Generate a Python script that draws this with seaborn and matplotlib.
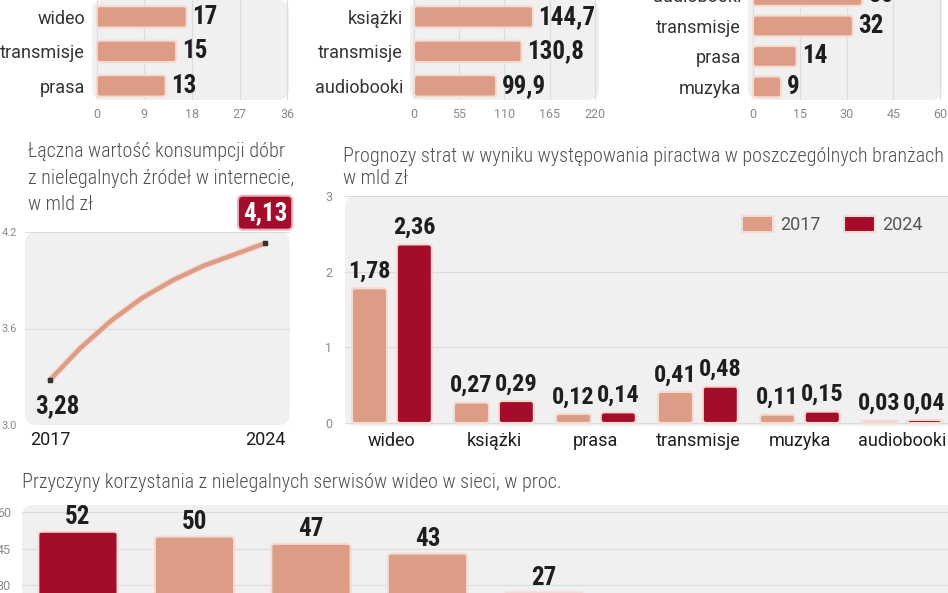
import pandas as pd
import seaborn as sns
import matplotlib.pyplot as plt
import matplotlib.patheffects as pe
from matplotlib.patches import FancyBboxPatch

# gorny rzad - poziome slupki (obciete od gory)
kat_a = ['wideo', 'transmisje', 'prasa']
wart_a = [17, 15, 13]
kat_b = ['książki', 'transmisje', 'audiobooki']
wart_b = [144.7, 130.8, 99.9]
kat_c = ['audiobooki', 'transmisje', 'prasa', 'muzyka']
wart_c = [35, 32, 14, 9]

# laczna wartosc konsumpcji
lata = [2017, 2018, 2019, 2020, 2021, 2022, 2023, 2024]
konsumpcja = [3.28, 3.48, 3.65, 3.79, 3.90, 3.99, 4.06, 4.13]

# prognozy strat
branze = ['wideo', 'książki', 'prasa', 'transmisje', 'muzyka', 'audiobooki']
straty_2017 = [1.78, 0.27, 0.12, 0.41, 0.11, 0.03]
straty_2024 = [2.36, 0.29, 0.14, 0.48, 0.15, 0.04]

# przyczyny (podpisy osi ucięte w kadrze)
przyczyny = ['p1', 'p2', 'p3', 'p4', 'p5']
przyczyny_proc = [52, 50, 47, 43, 27]

SALMON = '#dc9c85'
DARK = '#a30d2b'
EDGE = '#f5dcd2'
PANEL = '#f0f0f0'
GRID = '#dcdcdc'
TXT = '#1e1e1e'
TICK = '#8a8a8a'
W, H = 948, 593

sns.set_theme(style='white')
plt.rcParams['font.family'] = ['Roboto', 'DejaVu Sans']
NARROW = ['Roboto Condensed', 'Noto Sans Condensed', 'Open Sans Condensed',
          'DejaVu Sans Condensed', 'Liberation Sans Narrow', 'DejaVu Sans']
VAL = dict(fontsize=18, fontweight='bold', family=NARROW, fontstretch='condensed', color=TXT)
TIT = dict(fontsize=14.5, fontweight='light', color='#505050', family=NARROW,
           fontstretch='condensed')

fig = plt.figure(figsize=(W / 100, H / 100), dpi=100)


def pl(v, d):
    return f'{v:.{d}f}'.replace('.', ',')


def add_ax(x0, y0, x1, y1):
    # pozycja w pikselach (od lewego gornego rogu)
    ax = fig.add_axes([x0 / W, 1 - y1 / H, (x1 - x0) / W, (y1 - y0) / H])
    ax.patch.set_visible(False)
    w, h = x1 - x0, y1 - y0
    ax.add_patch(FancyBboxPatch((0, 0), 1, 1, boxstyle=f'round,pad=0,rounding_size={12 / w}',
                                mutation_aspect=w / h, transform=ax.transAxes,
                                fc=PANEL, ec='none', zorder=-1, clip_on=False))
    sns.despine(ax=ax, left=True, bottom=True)
    ax.tick_params(length=0)
    ax.set_axisbelow(True)
    return ax


def round_bars(ax, rho=3):
    # zaokraglone rogi slupkow
    bb = ax.get_window_extent()
    x0, x1 = ax.get_xlim()
    y0, y1 = ax.get_ylim()
    sx = bb.width / abs(x1 - x0)
    sy = bb.height / abs(y1 - y0)
    for cont in ax.containers:
        for r in cont:
            r.set_visible(False)
            ax.add_patch(FancyBboxPatch((r.get_x(), r.get_y()), r.get_width(), r.get_height(),
                                        boxstyle=f'round,pad=0,rounding_size={rho / sx}',
                                        mutation_aspect=sx / sy, fc=r.get_facecolor(),
                                        ec=EDGE, lw=1.5, zorder=2))


def hbars(ax, kat, wart, xlim, ticks, ylim, bw, d):
    sns.barplot(x=wart, y=kat, orient='h', color=SALMON, saturation=1, width=bw, ax=ax)
    ax.set_xlim(xlim)
    ax.set_ylim(ylim)
    ax.set_xticks(ticks)
    ax.set_xticklabels([str(t) for t in ticks], fontsize=9, color=TICK)
    ax.tick_params(axis='y', labelsize=13, labelcolor='#333333', pad=5)
    ax.tick_params(axis='x', pad=6)
    ax.grid(axis='x', color=GRID, lw=0.8)
    ax.set_xlabel('')
    ax.set_ylabel('')
    ax.bar_label(ax.containers[0], labels=[pl(v, d) for v in wart], padding=4,
                 annotation_clip=False, **VAL)
    round_bars(ax)


ax1 = add_ax(92, 0, 289, 100)
hbars(ax1, kat_a, wart_a, (-0.9, 36.3), [0, 9, 18, 27, 36], (2.41, -0.49), 0.62, 0)

ax2 = add_ax(410, 0, 599, 100)
hbars(ax2, kat_b, wart_b, (-4.9, 225), [0, 55, 110, 165, 220], (2.41, -0.49), 0.62, 1)

ax3 = add_ax(748, -10, 942, 100)
hbars(ax3, kat_c, wart_c, (-1.6, 60.6), [0, 15, 30, 45, 60], (3.43, -0.18), 0.68, 0)

# wykres liniowy
tytul_linie = ['Łączna wartość konsumpcji dóbr', 'z nielegalnych źródeł w internecie,', 'w mld zł']
for i, t in enumerate(tytul_linie):
    fig.text(28 / W, 1 - (152 + 26 * i) / H, t, ha='left', va='center', **TIT)
ax4 = add_ax(25, 232, 290, 425)
sns.lineplot(x=lata, y=konsumpcja, color=SALMON, lw=3.2, ax=ax4,
             path_effects=[pe.Stroke(linewidth=5, foreground=EDGE), pe.Normal()])
ax4.scatter([lata[0], lata[-1]], [konsumpcja[0], konsumpcja[-1]], marker='s', s=12,
            color='#333333', zorder=5)
ax4.set_xlim(2016.19, 2024.81)
ax4.set_ylim(3.0, 4.2)
ax4.set_xticks([lata[0], lata[-1]])
ax4.set_xticklabels([str(lata[0]), str(lata[-1])], fontsize=13, color=TXT)
ax4.set_yticks([3.0, 3.6, 4.2])
ax4.set_yticklabels(['3.0', '3.6', '4.2'], fontsize=8, color=TICK)
ax4.tick_params(axis='y', pad=6)
ax4.tick_params(axis='x', pad=4)
ax4.grid(axis='y', color=GRID, lw=0.8)
ax4.annotate(pl(konsumpcja[0], 2), (lata[0], konsumpcja[0]), xytext=(5, -19),
             textcoords='offset points', ha='center', va='center', **VAL)
ax4.annotate(pl(konsumpcja[-1], 2), (lata[-1], konsumpcja[-1]), xytext=(0, 22),
             textcoords='offset points', ha='center', va='center',
             **{**VAL, 'color': 'white'},
             bbox=dict(boxstyle='round,pad=0.2,rounding_size=0.2', fc=DARK, ec='#e8b5bc', lw=1.5))

# prognozy strat - slupki grupowane
fig.text(343 / W, 1 - 147 / H,
         'Prognozy strat w wyniku występowania piractwa w poszczególnych branżach\nw mld zł',
         ha='left', va='top', linespacing=1.22, **TIT)
df = pd.DataFrame({'branza': branze * 2,
                   'rok': ['2017'] * len(branze) + ['2024'] * len(branze),
                   'wartosc': straty_2017 + straty_2024})
ax5 = add_ax(345, 196, 960, 426)
sns.barplot(data=df, x='branza', y='wartosc', hue='rok', palette=[SALMON, DARK],
            saturation=1, width=0.88, gap=0.22, ax=ax5)
ax5.set_xlim(-0.46, 5.57)
ax5.set_ylim(-0.04, 3.0)
ax5.set_yticks([0, 1, 2, 3])
ax5.set_yticklabels(['0', '1', '2', '3'], fontsize=9, color=TICK)
ax5.tick_params(axis='y', pad=9)
ax5.tick_params(axis='x', labelsize=13, labelcolor=TXT, pad=4)
ax5.grid(axis='y', color=GRID, lw=0.8)
ax5.set_xlabel('')
ax5.set_ylabel('')
for cont in ax5.containers:
    ax5.bar_label(cont, labels=[pl(v, 2) for v in cont.datavalues], padding=4,
                  **{**VAL, 'fontsize': 17.5})
h, l = ax5.get_legend_handles_labels()
for hh in h:
    hh.set_edgecolor(EDGE)
    hh.set_linewidth(1.5)
ax5.legend(h, l, loc='upper right', bbox_to_anchor=(0.965, 0.985), ncol=2, frameon=False,
           fontsize=13, labelcolor='#555555', handlelength=1.7, handleheight=1.0,
           columnspacing=1.3, handletextpad=0.4)
round_bars(ax5)

# przyczyny - slupki pionowe (obciete od dolu)
fig.text(22 / W, 1 - 483 / H, 'Przyczyny korzystania z nielegalnych serwisów wideo w sieci, w proc.',
         ha='left', va='center', **TIT)
ax6 = add_ax(22, 505, 960, 658)
sns.barplot(x=przyczyny, y=przyczyny_proc, hue=przyczyny, palette=[DARK] + [SALMON] * 4,
            legend=False, saturation=1, width=0.68, ax=ax6)
ax6.set_xlim(-0.48, 7.57)
ax6.set_ylim(0, 63)
ax6.set_yticks([0, 15, 30, 45, 60])
ax6.set_yticklabels(['0', '15', '30', '45', '60'], fontsize=9, color=TICK)
ax6.tick_params(axis='y', pad=8)
ax6.set_xticks([])
ax6.grid(axis='y', color=GRID, lw=0.8)
ax6.set_xlabel('')
ax6.set_ylabel('')
for cont, v in zip(ax6.containers, przyczyny_proc):
    ax6.bar_label(cont, labels=[str(v)], padding=2, **VAL)
round_bars(ax6)

fig.savefig('out.png', dpi=100)
